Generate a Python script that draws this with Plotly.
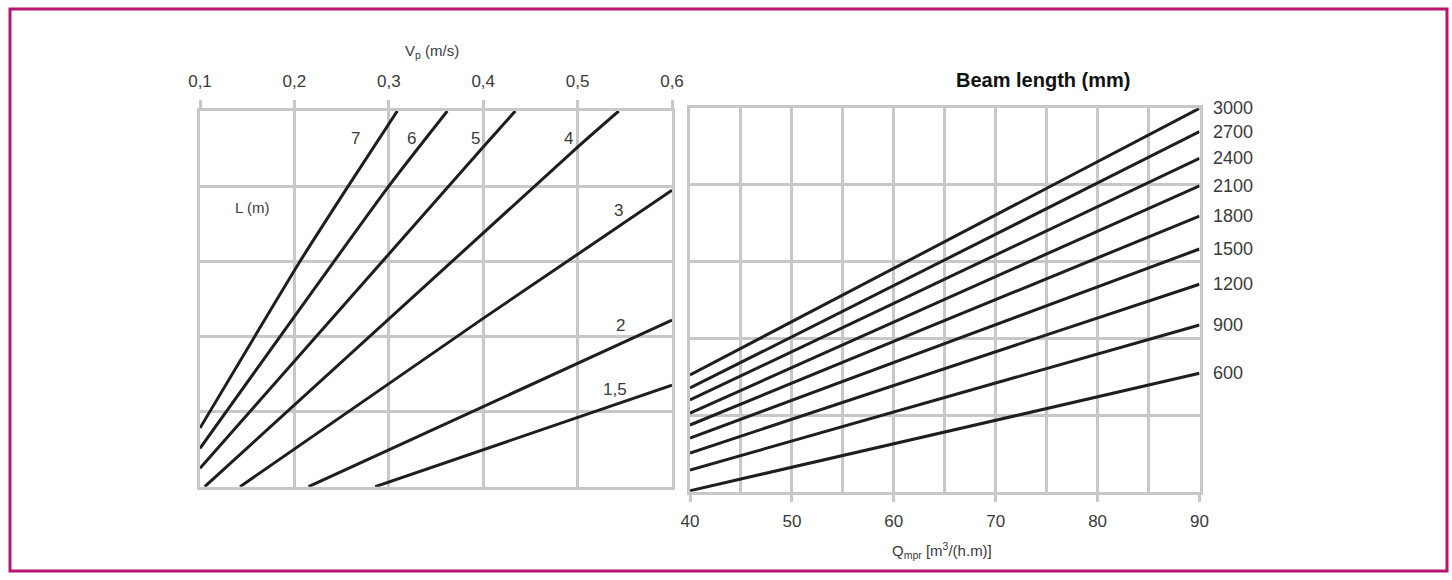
import plotly.graph_objects as go

W, H = 1452, 580

# ---------------- Left chart data (Vp vs L) ----------------
vp_ticks = [0.1, 0.2, 0.3, 0.4, 0.5, 0.6]
vp_ticktext = ["0,1", "0,2", "0,3", "0,4", "0,5", "0,6"]

L_labels = ["7", "6", "5", "4", "3", "2", "1,5"]
L_x = [
    [0.1, 0.158, 0.206, 0.257, 0.309],
    [0.1, 0.30, 0.362],
    [0.1, 0.40, 0.434],
    [0.105, 0.50, 0.5436],
    [0.1424, 0.40, 0.60],
    [0.2149, 0.60],
    [0.2856, 0.60],
]
L_y = [
    [0.78, 2.0, 3.0, 4.0, 5.0],
    [0.51, 4.0, 5.0],
    [0.245, 4.52, 5.0],
    [0.0, 4.52, 5.0],
    [0.0, 2.24, 3.945],
    [0.0, 2.217],
    [0.0, 1.352],
]
L_label_x = [0.2644, 0.3238, 0.3916, 0.490, 0.543, 0.5454, 0.540]
L_label_y = [4.63, 4.63, 4.63, 4.63, 3.68, 2.14, 1.29]

# ---------------- Right chart data (Q vs beam length) ----------------
q_vals = [40, 90]
beam_labels = ["3000", "2700", "2400", "2100", "1800", "1500", "1200", "900", "600"]
beam_y_start = [1.522, 1.352, 1.196, 1.026, 0.87, 0.70, 0.505, 0.283, 0.013]
beam_y_end = [5.0, 4.695, 4.348, 3.99, 3.595, 3.165, 2.705, 2.174, 1.544]
q_ticks = [40, 50, 60, 70, 80, 90]

GRID = "#c8c8c8"
LINE = "#1e1e1e"
TXT = "#3a3a3a"
FONT = "Liberation Sans, Arial, sans-serif"

fig = go.Figure()

for xs, ys in zip(L_x, L_y):
    fig.add_trace(go.Scatter(x=xs, y=ys, mode="lines",
                             line=dict(color=LINE, width=3, shape="spline", smoothing=0.6),
                             xaxis="x", yaxis="y", showlegend=False, hoverinfo="skip"))

for y0, y1 in zip(beam_y_start, beam_y_end):
    fig.add_trace(go.Scatter(x=q_vals, y=[y0, y1], mode="lines", line=dict(color=LINE, width=3),
                             xaxis="x2", yaxis="y2", showlegend=False, hoverinfo="skip"))

annotations = []
for lab, lx, ly in zip(L_labels, L_label_x, L_label_y):
    annotations.append(dict(x=lx, y=ly, xref="x", yref="y", text=lab, showarrow=False,
                            xanchor="center", yanchor="middle",
                            font=dict(family=FONT, size=17, color=TXT)))
annotations.append(dict(x=0.155, y=3.71, xref="x", yref="y", text="L (m)", showarrow=False,
                        xanchor="center", yanchor="middle",
                        font=dict(family=FONT, size=15, color=TXT)))
for lab, yv in zip(beam_labels, beam_y_end):
    annotations.append(dict(x=90, y=yv, xref="x2", yref="y2", text=lab, showarrow=False,
                            xanchor="left", yanchor="middle", xshift=11,
                            font=dict(family=FONT, size=18, color=TXT)))
annotations.append(dict(x=432 / W, y=1 - 51 / H, xref="paper", yref="paper",
                        text="V<sub>p</sub> (m/s)", showarrow=False,
                        xanchor="center", yanchor="middle",
                        font=dict(family=FONT, size=15, color=TXT)))
annotations.append(dict(x=1043 / W, y=1 - 80 / H, xref="paper", yref="paper",
                        text="<b>Beam length (mm)</b>", showarrow=False,
                        xanchor="center", yanchor="middle",
                        font=dict(family=FONT, size=20, color="#111111")))
annotations.append(dict(x=942 / W, y=1 - 550 / H, xref="paper", yref="paper",
                        text="Q<sub>mpr</sub> [m<sup>3</sup>/(h.m)]", showarrow=False,
                        xanchor="center", yanchor="middle",
                        font=dict(family=FONT, size=15, color=TXT)))

common = dict(showgrid=True, gridcolor=GRID, gridwidth=3, zeroline=False,
              showline=True, linecolor=GRID, linewidth=3, mirror=True, automargin=False)

fig.update_layout(
    width=W, height=H,
    margin=dict(l=0, r=0, t=0, b=0, pad=0),
    paper_bgcolor="white", plot_bgcolor="white",
    showlegend=False,
    xaxis=dict(domain=[200 / W, 672 / W], range=[0.1, 0.6], side="top",
               tickvals=vp_ticks, ticktext=vp_ticktext, ticks="outside", ticklen=8,
               tickwidth=3, tickcolor=GRID, ticklabelstandoff=6,
               tickfont=dict(family=FONT, size=17, color=TXT), anchor="y", **common),
    yaxis=dict(domain=[1 - 486.7 / H, 1 - 111 / H], range=[0, 5], dtick=1,
               showticklabels=False, ticks="", anchor="x", **common),
    xaxis2=dict(domain=[690 / W, 1199.5 / W], range=[40, 90],
                tickvals=q_ticks, ticks="outside", ticklen=7, tickwidth=3, tickcolor=GRID,
                ticklabelstandoff=5,
                minor=dict(dtick=5, showgrid=True, gridcolor=GRID, gridwidth=3, ticks=""),
                tickfont=dict(family=FONT, size=17, color=TXT), anchor="y2", **common),
    yaxis2=dict(domain=[1 - 491.7 / H, 1 - 108.3 / H], range=[0, 5], dtick=1,
                showticklabels=False, ticks="", anchor="x2", **common),
    annotations=annotations,
    shapes=[dict(type="rect", xref="paper", yref="paper",
                 x0=10 / W, x1=1447 / W, y0=1 - 571 / H, y1=1 - 9 / H,
                 line=dict(color="#b8166e", width=3), fillcolor="rgba(0,0,0,0)")],
)

fig.write_html("out.html", config={"displayModeBar": False},
               post_script="document.body.style.margin='0';document.body.style.overflow='hidden';")
